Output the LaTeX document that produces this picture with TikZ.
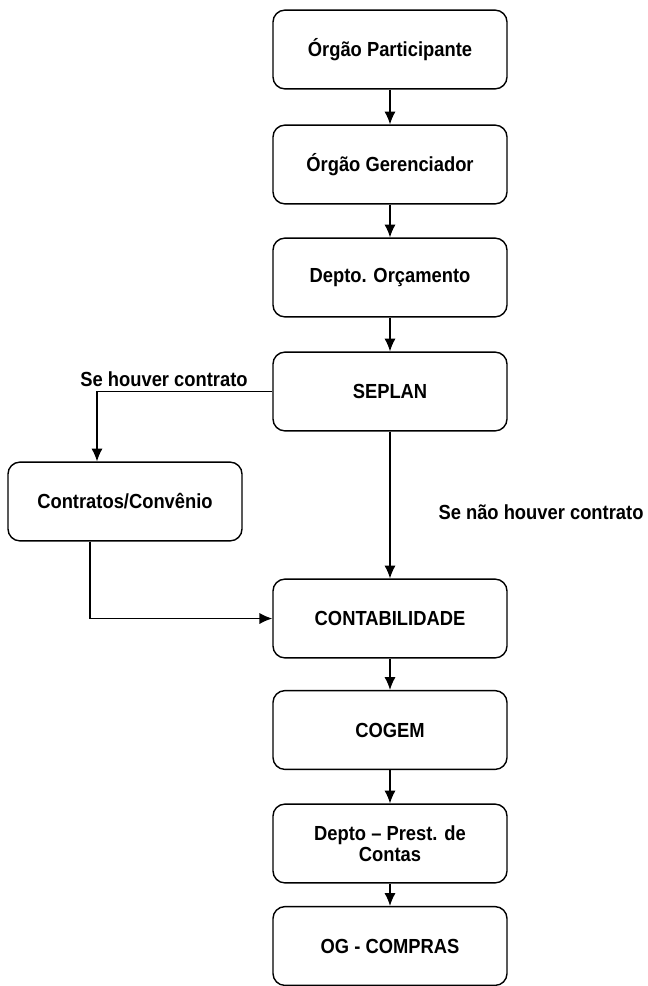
\documentclass[tikz,border=0pt]{standalone}
\usepackage{fontspec}
\setmainfont{Liberation Sans}[FakeStretch=0.9]
\usetikzlibrary{arrows.meta}
\begin{document}
\begin{tikzpicture}[x=0.025cm, y=-0.025cm, >={Latex[length=3.2mm,width=2.8mm]},
    etapa/.style={draw, line width=1pt, rounded corners=0.3cm, minimum width=5.85cm, minimum height=1.97cm, align=center, font=\fontsize{14.5}{17}\selectfont\bfseries},
    rotulo/.style={font=\fontsize{14.5}{17}\selectfont\bfseries},
    fluxo/.style={->, line width=1pt}]
    \useasboundingbox (0,0) rectangle (648,986);
    \node [etapa] (part) at (390,49.5) {Órgão Participante};
    \node [etapa] (ger) at (390,164.5) {Órgão Gerenciador};
    \node [etapa] (orc) at (390,277.5) {Depto. Orçamento};
    \node [etapa] (seplan) at (390,391.5) {SEPLAN};
    \node [etapa] (contr) at (125,501.5) {Contratos/Convênio};
    \node [etapa] (contab) at (390,618.5) {CONTABILIDADE};
    \node [etapa] (cogem) at (390,730) {COGEM};
    \node [etapa] (prest) at (390,843.5) {Depto -- Prest. de\\[-2pt] Contas};
    \node [etapa] (compras) at (390,946) {OG - COMPRAS};
    \node [rotulo] (sim) at (164,379) {Se houver contrato};
    \node [rotulo] (nao) at (541,512) {Se não houver contrato};
    \draw [fluxo] (part) -- (ger);
    \draw [fluxo] (ger) -- (orc);
    \draw [fluxo] (orc) -- (seplan);
    \draw [fluxo] (seplan.west) -| ([xshift=-0.7cm]contr.north);
    \draw [fluxo] (seplan) -- (contab);
    \draw [fluxo] ([xshift=-0.87cm]contr.south) |- (contab.west);
    \draw [fluxo] (contab) -- (cogem);
    \draw [fluxo] (cogem) -- (prest);
    \draw [fluxo] (prest) -- (compras);
\end{tikzpicture}
\end{document}
